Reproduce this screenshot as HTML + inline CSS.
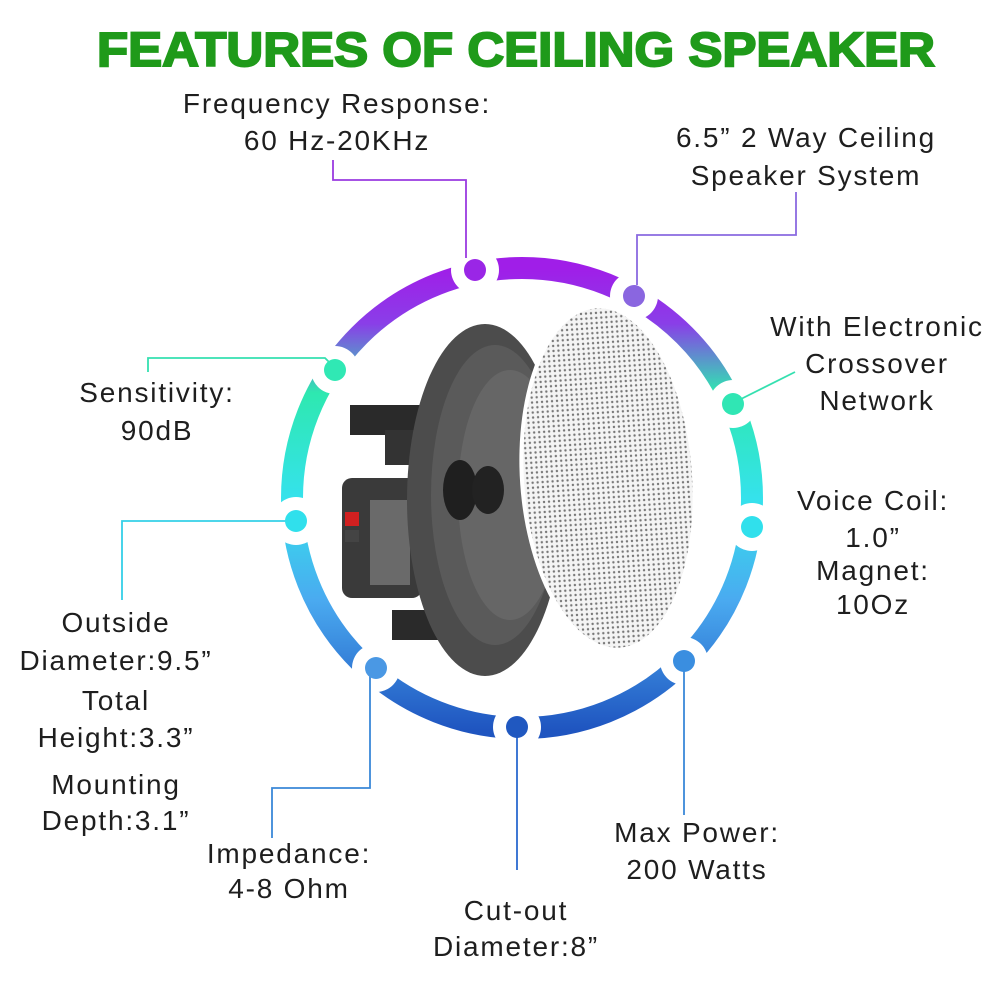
<!DOCTYPE html>
<html><head><meta charset="utf-8"><style>
html,body{margin:0;padding:0;background:#fff;}
svg{display:block}
text{font-family:"Liberation Sans",sans-serif;fill:#1e1e1e;font-size:28px;letter-spacing:1.8px;text-anchor:middle}
</style></head><body>
<svg width="1000" height="1000" viewBox="0 0 1000 1000">
<defs>
<linearGradient id="rg" x1="0" y1="268" x2="0" y2="730" gradientUnits="userSpaceOnUse">
<stop offset="0" stop-color="#a01ee8"/>
<stop offset="0.12" stop-color="#8a3ee8"/>
<stop offset="0.27" stop-color="#2ee8b0"/>
<stop offset="0.5" stop-color="#35e2ec"/>
<stop offset="0.72" stop-color="#4aaaf0"/>
<stop offset="1" stop-color="#1f55c0"/>
</linearGradient>
<pattern id="dots" width="5" height="5" patternUnits="userSpaceOnUse">
<rect width="5" height="5" fill="#f4f4f4"/><circle cx="2.5" cy="2.5" r="1.2" fill="#777"/>
</pattern>
</defs>
<text x="516" y="66" style="font-size:48px;font-weight:bold;fill:#1f9a1a;stroke:#1f9a1a;stroke-width:2;letter-spacing:0" textLength="838" lengthAdjust="spacingAndGlyphs">FEATURES OF CEILING SPEAKER</text>

<circle cx="522" cy="498" r="230" fill="none" stroke="url(#rg)" stroke-width="22"/>
<g fill="#fff">
<circle cx="475" cy="270" r="24"/><circle cx="634" cy="296" r="24"/><circle cx="733" cy="404" r="24"/>
<circle cx="752" cy="527" r="24"/><circle cx="684" cy="661" r="24"/><circle cx="517" cy="727" r="24"/>
<circle cx="376" cy="668" r="24"/><circle cx="296" cy="521" r="24"/><circle cx="335" cy="370" r="24"/>
</g>
<g fill="none" stroke-width="1.8">
<polyline points="333,160 333,180 466,180 466,258" stroke="#9a3ae0"/>
<polyline points="796,192 796,235 637,235 637,285" stroke="#8a6ae0"/>
<line x1="735" y1="402" x2="795" y2="372" stroke="#35e0b0"/>
<polyline points="148,372 148,358 325,358 333,366" stroke="#35e0b0"/>
<polyline points="122,600 122,521 290,521" stroke="#35d0e8"/>
<polyline points="272,838 272,788 370,788 370,672" stroke="#3a88d8"/>
<line x1="517" y1="735" x2="517" y2="870" stroke="#2a6ad0"/>
<line x1="684" y1="665" x2="684" y2="815" stroke="#3a88d8"/>
</g>
<g>
<circle cx="475" cy="270" r="11" fill="#9a26e6"/><circle cx="634" cy="296" r="11" fill="#8a66e0"/>
<circle cx="733" cy="404" r="11" fill="#30e6b4"/><circle cx="752" cy="527" r="11" fill="#30e0ec"/>
<circle cx="684" cy="661" r="11" fill="#3a8ee0"/><circle cx="517" cy="727" r="11" fill="#2058c0"/>
<circle cx="376" cy="668" r="11" fill="#4a98e4"/><circle cx="296" cy="521" r="11" fill="#30e0ec"/>
<circle cx="335" cy="370" r="11" fill="#30e8b4"/>
</g>

<g>
<rect x="350" y="405" width="70" height="30" fill="#2a2a2a"/>
<rect x="385" y="430" width="40" height="35" fill="#333"/>
<rect x="342" y="478" width="80" height="120" rx="10" fill="#3a3a3a"/>
<rect x="345" y="512" width="14" height="14" fill="#d02020"/>
<rect x="345" y="530" width="14" height="12" fill="#444"/>
<rect x="370" y="500" width="40" height="85" fill="#6a6a6a"/>
<rect x="392" y="610" width="50" height="30" fill="#2a2a2a"/>
<ellipse cx="485" cy="500" rx="78" ry="176" fill="#4c4c4c"/>
<ellipse cx="495" cy="495" rx="64" ry="150" fill="#5a5a5a"/>
<ellipse cx="510" cy="495" rx="52" ry="125" fill="#666"/>
<ellipse cx="460" cy="490" rx="17" ry="30" fill="#1f1f1f"/>
<ellipse cx="488" cy="490" rx="16" ry="24" fill="#222"/>
<ellipse cx="608" cy="478" rx="88" ry="175" transform="rotate(-4 608 478)" fill="#fff"/>
<ellipse cx="608" cy="478" rx="84" ry="170" transform="rotate(-4 608 478)" fill="url(#dots)"/>
</g>

<text x="337" y="113">Frequency Response:</text>
<text x="337" y="150">60 Hz-20KHz</text>
<text x="806" y="147">6.5” 2 Way Ceiling</text>
<text x="806" y="185">Speaker System</text>
<text x="877" y="336">With Electronic</text>
<text x="877" y="373">Crossover</text>
<text x="877" y="410">Network</text>
<text x="157" y="402">Sensitivity:</text>
<text x="157" y="440">90dB</text>
<text x="873" y="510">Voice Coil:</text>
<text x="873" y="547">1.0”</text>
<text x="873" y="580">Magnet:</text>
<text x="873" y="614">10Oz</text>
<text x="116" y="632">Outside</text>
<text x="116" y="670">Diameter:9.5”</text>
<text x="116" y="710">Total</text>
<text x="116" y="747">Height:3.3”</text>
<text x="116" y="794">Mounting</text>
<text x="116" y="830">Depth:3.1”</text>
<text x="289" y="863">Impedance:</text>
<text x="289" y="898">4-8 Ohm</text>
<text x="697" y="842">Max Power:</text>
<text x="697" y="879">200 Watts</text>
<text x="516" y="920">Cut-out</text>
<text x="516" y="956">Diameter:8”</text>
</svg>
</body></html>
